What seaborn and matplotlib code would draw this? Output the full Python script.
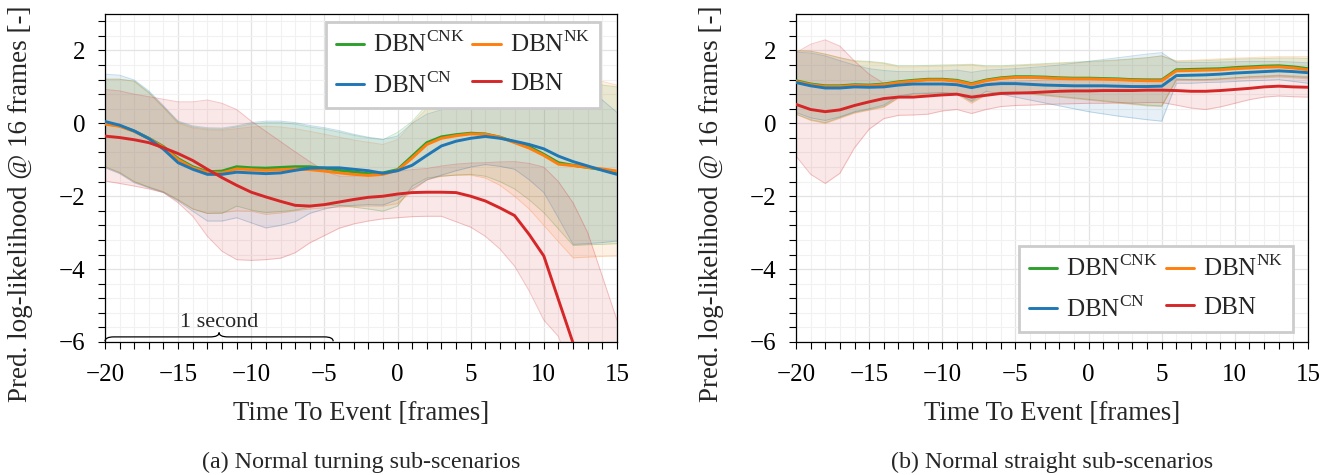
import numpy as np
import pandas as pd
import matplotlib
matplotlib.use('Agg')
import matplotlib.pyplot as plt
from matplotlib.path import Path
from matplotlib.patches import PathPatch
from matplotlib.lines import Line2D
from matplotlib.ticker import MultipleLocator
import seaborn as sns

# ----------------------------
# Data
# ----------------------------
frames = list(range(-20, 16))
models = ['DBN^CNK', 'DBN^NK', 'DBN^CN', 'DBN']
labels = [r'DBN$^{\mathrm{CNK}}$', r'DBN$^{\mathrm{NK}}$', r'DBN$^{\mathrm{CN}}$', 'DBN']
colors = ['#2ca02c', '#ff7f0e', '#1f77b4', '#d62728']

# (a) turning - means
turn_cnk = [-0.01, -0.07, -0.21, -0.41, -0.64, -0.97, -1.19, -1.33, -1.31, -1.19, -1.22, -1.23,
            -1.21, -1.19, -1.19, -1.23, -1.29, -1.33, -1.38, -1.36, -1.27, -0.90, -0.53, -0.37,
            -0.31, -0.27, -0.29, -0.38, -0.51, -0.64, -0.85, -1.08, -1.15, -1.21, -1.27, -1.34]
turn_nk = [-0.02, -0.08, -0.22, -0.42, -0.66, -1.00, -1.22, -1.35, -1.36, -1.25, -1.27, -1.29,
           -1.27, -1.25, -1.27, -1.31, -1.36, -1.40, -1.43, -1.40, -1.29, -0.95, -0.58, -0.41,
           -0.34, -0.29, -0.30, -0.38, -0.53, -0.68, -0.88, -1.12, -1.16, -1.21, -1.25, -1.31]
turn_cn = [0.05, -0.05, -0.21, -0.42, -0.71, -1.08, -1.26, -1.40, -1.40, -1.34, -1.36, -1.38,
           -1.36, -1.29, -1.23, -1.22, -1.22, -1.26, -1.30, -1.37, -1.30, -1.15, -0.88, -0.62,
           -0.49, -0.41, -0.36, -0.41, -0.49, -0.58, -0.70, -0.90, -1.05, -1.17, -1.29, -1.40]
turn_dbn = [-0.35, -0.39, -0.45, -0.53, -0.67, -0.83, -1.02, -1.26, -1.49, -1.70, -1.89, -2.02,
            -2.14, -2.25, -2.27, -2.23, -2.16, -2.09, -2.03, -2.00, -1.94, -1.90, -1.89, -1.89,
            -1.90, -2.00, -2.13, -2.32, -2.53, -3.05, -3.64, -4.84, -6.03, -7.40, -8.80, -10.20]

# (a) turning - band upper
turn_cnk_hi = [1.21, 1.21, 1.16, 0.85, 0.45, 0.03, -0.10, -0.15, -0.16, -0.10, -0.02, 0.02,
               0.02, -0.02, -0.10, -0.16, -0.24, -0.33, -0.40, -0.45, -0.25, 0.05, 0.50, 0.75,
               0.82, 0.88, 0.92, 0.98, 1.05, 1.10, 1.15, 1.20, 1.25, 1.15, 1.05, 1.00]
turn_nk_hi = [1.21, 1.21, 1.15, 0.83, 0.43, 0.00, -0.13, -0.18, -0.19, -0.15, -0.10, -0.08,
              -0.10, -0.15, -0.22, -0.30, -0.38, -0.46, -0.52, -0.58, -0.45, 0.00, 0.40, 0.70,
              0.85, 0.92, 1.00, 1.07, 1.13, 1.20, 1.27, 1.35, 1.41, 1.28, 1.15, 1.05]
turn_cn_hi = [1.35, 1.32, 1.19, 0.89, 0.48, 0.06, -0.07, -0.12, -0.13, -0.07, 0.02, 0.06,
              0.06, 0.02, -0.06, -0.12, -0.20, -0.30, -0.38, -0.44, -0.35, 0.00, 0.25, 0.37,
              0.47, 0.57, 0.67, 0.77, 0.87, 0.97, 1.07, 1.17, 1.28, 0.98, 0.64, 0.30]
turn_dbn_hi = [0.93, 0.89, 0.80, 0.73, 0.66, 0.59, 0.59, 0.64, 0.55, 0.38, 0.06, -0.22,
               -0.50, -0.78, -1.05, -1.30, -1.45, -1.45, -1.42, -1.38, -1.32, -1.27, -1.24, -1.17,
               -1.12, -1.09, -1.08, -1.06, -1.05, -1.10, -1.20, -1.60, -2.18, -3.00, -4.20, -5.40]

# (a) turning - band lower
turn_cnk_lo = [-1.19, -1.35, -1.60, -1.75, -1.88, -2.10, -2.35, -2.47, -2.47, -2.27, -2.38, -2.45,
               -2.42, -2.38, -2.30, -2.25, -2.25, -2.30, -2.35, -2.41, -2.27, -1.72, -1.50, -1.45,
               -1.42, -1.40, -1.45, -1.60, -1.80, -2.10, -2.45, -2.90, -3.35, -3.33, -3.32, -3.30]
turn_nk_lo = [-1.19, -1.35, -1.60, -1.75, -1.88, -2.10, -2.35, -2.47, -2.45, -2.40, -2.41, -2.50,
              -2.46, -2.40, -2.35, -2.32, -2.30, -2.28, -2.27, -2.27, -2.20, -1.85, -1.55, -1.45,
              -1.42, -1.42, -1.50, -1.70, -2.00, -2.35, -2.80, -3.25, -3.69, -3.67, -3.65, -3.64]
turn_cn_lo = [-1.22, -1.38, -1.63, -1.77, -1.90, -2.13, -2.41, -2.68, -2.68, -2.59, -2.73, -2.87,
              -2.80, -2.70, -2.47, -2.35, -2.27, -2.25, -2.23, -2.24, -2.09, -1.80, -1.55, -1.42,
              -1.30, -1.20, -1.13, -1.18, -1.26, -1.55, -1.90, -2.60, -3.32, -3.30, -3.27, -3.23]
turn_dbn_lo = [-1.58, -1.65, -1.72, -1.80, -1.90, -2.18, -2.55, -3.10, -3.51, -3.74, -3.76, -3.74,
               -3.70, -3.55, -3.28, -3.08, -2.88, -2.76, -2.68, -2.62, -2.59, -2.56, -2.55, -2.55,
               -2.70, -2.85, -3.10, -3.45, -3.92, -4.60, -5.40, -5.85, -7.00, -8.50, -10.00, -11.50]

# (b) straight - means
str_cnk = [1.17, 1.08, 1.03, 1.03, 1.06, 1.05, 1.08, 1.14, 1.18, 1.21, 1.21, 1.18,
           1.09, 1.19, 1.25, 1.28, 1.28, 1.27, 1.25, 1.24, 1.24, 1.23, 1.22, 1.20,
           1.19, 1.19, 1.47, 1.48, 1.49, 1.50, 1.53, 1.55, 1.57, 1.58, 1.55, 1.50]
str_nk = [1.15, 1.06, 1.01, 1.01, 1.04, 1.03, 1.06, 1.12, 1.16, 1.19, 1.19, 1.16,
          1.07, 1.17, 1.23, 1.26, 1.26, 1.25, 1.23, 1.22, 1.22, 1.21, 1.20, 1.18,
          1.17, 1.17, 1.44, 1.45, 1.46, 1.47, 1.50, 1.52, 1.54, 1.55, 1.52, 1.47]
str_cn = [1.12, 1.03, 0.97, 0.97, 1.00, 0.99, 1.00, 1.05, 1.08, 1.08, 1.08, 1.06,
          0.98, 1.06, 1.09, 1.09, 1.07, 1.05, 1.04, 1.03, 1.03, 1.03, 1.02, 1.01,
          1.01, 1.02, 1.31, 1.32, 1.33, 1.35, 1.38, 1.40, 1.42, 1.44, 1.42, 1.39]
str_dbn = [0.52, 0.38, 0.32, 0.37, 0.49, 0.59, 0.68, 0.72, 0.72, 0.75, 0.78, 0.80,
           0.72, 0.77, 0.82, 0.83, 0.84, 0.86, 0.88, 0.89, 0.89, 0.90, 0.90, 0.90,
           0.91, 0.91, 0.90, 0.88, 0.88, 0.90, 0.93, 0.96, 1.00, 1.02, 1.00, 0.99]

# (b) straight - band upper
str_cnk_hi = [1.99, 1.98, 1.90, 1.80, 1.72, 1.70, 1.66, 1.58, 1.58, 1.59, 1.60, 1.61,
              1.62, 1.58, 1.58, 1.60, 1.62, 1.64, 1.66, 1.68, 1.70, 1.72, 1.74, 1.77,
              1.80, 1.85, 1.70, 1.71, 1.72, 1.74, 1.76, 1.77, 1.78, 1.79, 1.79, 1.78]
str_nk_hi = [1.99, 1.98, 1.90, 1.80, 1.70, 1.68, 1.64, 1.55, 1.55, 1.56, 1.57, 1.58,
             1.60, 1.55, 1.55, 1.57, 1.60, 1.62, 1.64, 1.66, 1.68, 1.70, 1.73, 1.76,
             1.80, 1.85, 1.72, 1.73, 1.75, 1.77, 1.79, 1.80, 1.82, 1.83, 1.83, 1.83]
str_cn_hi = [1.95, 1.93, 1.85, 1.72, 1.60, 1.50, 1.45, 1.42, 1.42, 1.43, 1.44, 1.46,
             1.40, 1.46, 1.48, 1.50, 1.53, 1.56, 1.60, 1.65, 1.70, 1.75, 1.80, 1.85,
             1.90, 1.94, 1.67, 1.67, 1.67, 1.68, 1.69, 1.70, 1.70, 1.70, 1.68, 1.66]
str_dbn_hi = [1.94, 2.17, 2.29, 2.12, 1.71, 1.35, 1.10, 1.05, 1.05, 1.07, 1.10, 1.12,
              1.05, 1.10, 1.15, 1.16, 1.17, 1.19, 1.20, 1.21, 1.21, 1.22, 1.22, 1.22,
              1.23, 1.23, 1.22, 1.20, 1.20, 1.22, 1.25, 1.28, 1.30, 1.32, 1.30, 1.28]

# (b) straight - band lower
str_cnk_lo = [0.25, 0.10, 0.02, 0.16, 0.30, 0.38, 0.46, 0.71, 0.80, 0.82, 0.84, 0.82,
              0.59, 0.80, 0.86, 0.86, 0.82, 0.78, 0.74, 0.70, 0.66, 0.62, 0.58, 0.54,
              0.50, 0.48, 1.20, 1.20, 1.20, 1.22, 1.25, 1.27, 1.28, 1.30, 1.28, 1.25]
str_nk_lo = [0.25, 0.08, 0.00, 0.14, 0.28, 0.36, 0.44, 0.69, 0.78, 0.80, 0.82, 0.80,
             0.55, 0.78, 0.84, 0.84, 0.80, 0.76, 0.72, 0.68, 0.64, 0.60, 0.56, 0.52,
             0.48, 0.46, 1.18, 1.18, 1.18, 1.20, 1.22, 1.24, 1.25, 1.27, 1.25, 1.22]
str_cn_lo = [0.30, 0.15, 0.08, 0.18, 0.32, 0.40, 0.50, 0.75, 0.82, 0.83, 0.84, 0.82,
             0.62, 0.88, 0.80, 0.72, 0.64, 0.56, 0.48, 0.40, 0.32, 0.26, 0.20, 0.15,
             0.10, 0.06, 1.10, 1.10, 1.12, 1.13, 1.15, 1.17, 1.18, 1.20, 1.15, 1.10]
str_dbn_lo = [-0.90, -1.40, -1.65, -1.37, -0.67, -0.16, 0.13, 0.22, 0.23, 0.25, 0.34, 0.38,
              0.27, 0.38, 0.46, 0.49, 0.50, 0.52, 0.53, 0.54, 0.55, 0.55, 0.56, 0.56,
              0.57, 0.57, 0.50, 0.42, 0.38, 0.45, 0.55, 0.65, 0.72, 0.75, 0.73, 0.72]

panels = {
    'turn': {'mean': [turn_cnk, turn_nk, turn_cn, turn_dbn],
             'hi': [turn_cnk_hi, turn_nk_hi, turn_cn_hi, turn_dbn_hi],
             'lo': [turn_cnk_lo, turn_nk_lo, turn_cn_lo, turn_dbn_lo]},
    'straight': {'mean': [str_cnk, str_nk, str_cn, str_dbn],
                 'hi': [str_cnk_hi, str_nk_hi, str_cn_hi, str_dbn_hi],
                 'lo': [str_cnk_lo, str_nk_lo, str_cn_lo, str_dbn_lo]},
}

# ----------------------------
# Style
# ----------------------------
sns.set_theme(style='ticks')
plt.rcParams['font.family'] = ['Liberation Serif', 'DejaVu Serif']
plt.rcParams['mathtext.fontset'] = 'custom'
plt.rcParams['mathtext.rm'] = 'Liberation Serif'
plt.rcParams['axes.unicode_minus'] = True

fig = plt.figure(figsize=(13.34, 4.75), dpi=100)
ax_a = fig.add_axes([0.0787, 0.28, 0.3838, 0.6905])
ax_b = fig.add_axes([0.5967, 0.28, 0.3838, 0.6905])


def draw_brace(ax, x0, x1, y0, h, r):
    xm = (x0 + x1) / 2
    verts = [(x0, y0), (x0, y0 + h), (x0 + r, y0 + h),
             (xm - r, y0 + h), (xm, y0 + h), (xm, y0 + 2 * h),
             (xm, y0 + h), (xm + r, y0 + h),
             (x1 - r, y0 + h), (x1, y0 + h), (x1, y0)]
    codes = [Path.MOVETO, Path.CURVE3, Path.CURVE3,
             Path.LINETO, Path.CURVE3, Path.CURVE3,
             Path.CURVE3, Path.CURVE3,
             Path.LINETO, Path.CURVE3, Path.CURVE3]
    ax.add_patch(PathPatch(Path(verts, codes), fc='none', ec='black', lw=0.9, clip_on=False, zorder=6))


for ax, key in [(ax_a, 'turn'), (ax_b, 'straight')]:
    d = panels[key]
    rows = []
    for m, ys in zip(models, d['mean']):
        for f, v in zip(frames, ys):
            rows.append({'frame': f, 'value': v, 'model': m})
    df = pd.DataFrame(rows)

    # shaded bands
    for i, m in enumerate(models):
        ax.fill_between(frames, d['lo'][i], d['hi'][i], color=colors[i], alpha=0.11, lw=0, zorder=1)
        ax.plot(frames, d['lo'][i], color=colors[i], alpha=0.25, lw=0.7, zorder=1)
        ax.plot(frames, d['hi'][i], color=colors[i], alpha=0.25, lw=0.7, zorder=1)

    sns.lineplot(data=df, x='frame', y='value', hue='model', hue_order=models,
                 palette=colors, lw=2.1, legend=False, ax=ax, zorder=3)

    ax.set_xlim(-20, 15)
    ax.set_ylim(-6, 3)
    ax.xaxis.set_major_locator(MultipleLocator(5))
    ax.xaxis.set_minor_locator(MultipleLocator(1))
    ax.yaxis.set_major_locator(MultipleLocator(2))
    ax.yaxis.set_minor_locator(MultipleLocator(0.4))
    ax.grid(which='major', color='#e3e3e3', lw=0.9)
    ax.grid(which='minor', color='#f1f1f1', lw=0.8)
    ax.set_axisbelow(True)
    for s in ax.spines.values():
        s.set_color('black')
        s.set_linewidth(0.9)
    ax.tick_params(which='both', direction='out', length=5, width=0.8, colors='black',
                   labelsize=18)
    ax.tick_params(axis='x', which='both', pad=11)
    ax.tick_params(axis='y', which='both', pad=9)
    ax.set_xlabel('Time To Event [frames]', fontsize=19.3)
    ax.set_ylabel('Pred. log-likelihood @ 16 frames [-]', fontsize=19.5)
    ax.xaxis.set_label_coords(0.5, -0.18)
    ax.yaxis.set_label_coords(-0.14, 0.42)

    handles = [Line2D([], [], color=c, lw=2.1) for c in colors]
    order = [0, 2, 1, 3]
    if key == 'turn':
        loc, anchor = 'upper right', (0.967, 0.977)
    else:
        loc, anchor = 'lower right', (0.971, 0.03)
    leg = ax.legend([handles[i] for i in order], [labels[i] for i in order], ncol=2,
                    loc=loc, bbox_to_anchor=anchor, borderaxespad=0,
                    fontsize=18, handlelength=1.15, columnspacing=0.3, handletextpad=0.35,
                    labelspacing=0.6, borderpad=0.4, fancybox=False, framealpha=1)
    leg.get_frame().set_edgecolor('#cccccc')
    leg.get_frame().set_linewidth(2)
    leg.set_zorder(10)

# "1 second" brace
draw_brace(ax_a, -20, -4.4, -5.98, 0.12, 0.6)
ax_a.text(-12.2, -5.72, '1 second', ha='center', va='bottom', fontsize=16, zorder=6)

fig.text(0.2706, 0.027, '(a) Normal turning sub-scenarios', ha='center', va='center', fontsize=17.3)
fig.text(0.7886, 0.027, '(b) Normal straight sub-scenarios', ha='center', va='center', fontsize=17.3)

fig.savefig('out.png', dpi=100)
